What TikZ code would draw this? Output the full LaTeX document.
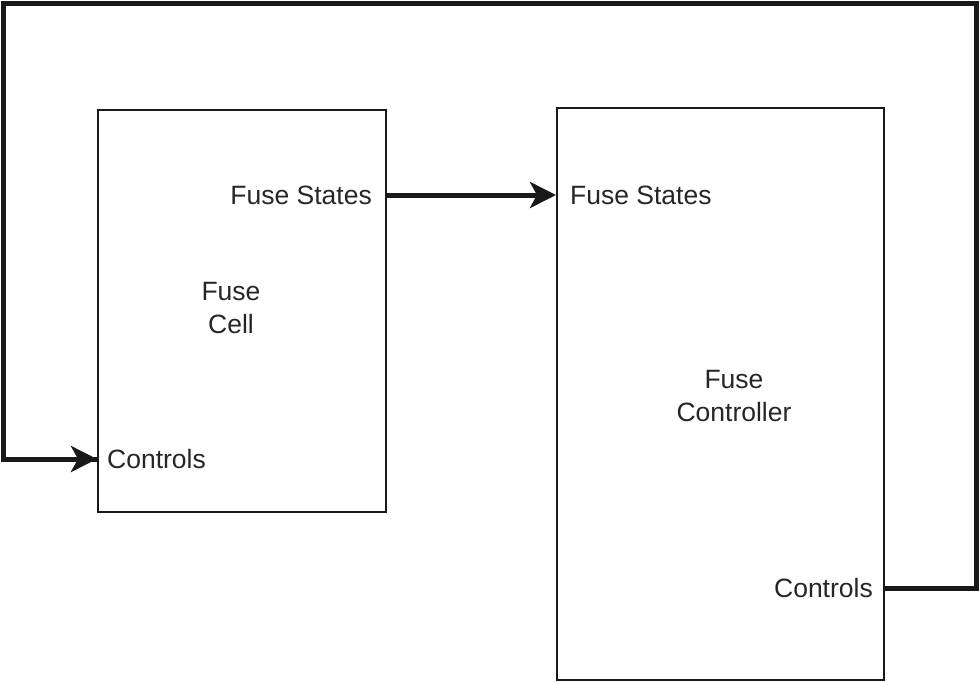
\documentclass[tikz,border=0pt]{standalone}
\usepackage{fontspec}
\setmainfont{Liberation Sans}
\usetikzlibrary{arrows.meta}
\begin{document}
\begin{tikzpicture}[x=1pt,y=-1pt,
  blk/.style={draw=black!90,line width=2pt,minimum width=#1,inner sep=0pt},
  lbl/.style={font=\fontsize{26.5}{31}\selectfont,text=black!85,inner sep=0pt},
  sig/.style={line width=5pt,draw=black!90,-{Stealth[length=26pt,width=26pt,inset=7pt]}},
  wire/.style={line width=5pt,draw=black!90}]
\useasboundingbox (0,0) rectangle (980,681);
\node[blk=288pt,minimum height=402pt] (cell) at (242,311) {};
\node[blk=327pt,minimum height=572pt] (ctrl) at (720.5,394) {};
\node[lbl,anchor=east] (cfs) at (372,195) {Fuse States};
\node[lbl,anchor=west] (cc) at (107,459) {Controls};
\node[lbl,align=center] (cname) at (231,308) {Fuse\\[2pt]Cell};
\node[lbl,anchor=west] (kfs) at (570,195) {Fuse States};
\node[lbl,anchor=east] (kc) at (873,588) {Controls};
\node[lbl,align=center] (kname) at (734,396) {Fuse\\[2pt]Controller};
\coordinate (a) at (cell.east |- cfs);
\coordinate (b) at (ctrl.west |- cfs);
\draw[sig] (a) -- (b);
\coordinate (c1) at (ctrl.east |- kc);
\coordinate (c2) at (976,588);
\coordinate (c3) at (976,3.5);
\coordinate (c4) at (3.5,3.5);
\coordinate (c5) at (3.5,459);
\coordinate (c6) at (cell.west |- cc);
\draw[wire,line join=miter] (c1) -- (c2) -- (c3) -- (c4) -- (c5) -- (c6);
\draw[sig] (c5) -- (c6);
\end{tikzpicture}
\end{document}
